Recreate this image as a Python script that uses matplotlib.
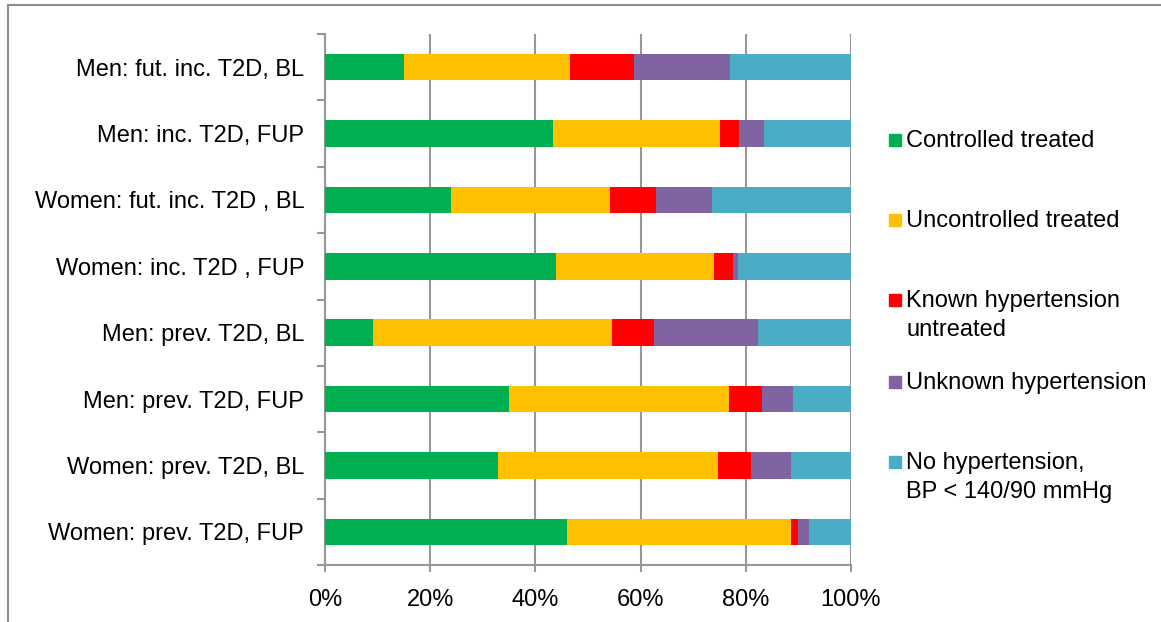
import matplotlib.pyplot as plt
from matplotlib.patches import Rectangle
from matplotlib.lines import Line2D

plt.rcParams['font.family'] = ['Liberation Sans', 'DejaVu Sans']

# data (percent of each group)
groups = ['Men: fut. inc. T2D, BL', 'Men: inc. T2D, FUP', 'Women: fut. inc. T2D , BL',
          'Women: inc. T2D , FUP', 'Men: prev. T2D, BL', 'Men: prev. T2D, FUP',
          'Women: prev. T2D, BL', 'Women: prev. T2D, FUP']
controlled = [15.1, 43.4, 23.9, 44.0, 9.1, 34.9, 32.9, 46.0]
uncontrolled = [31.5, 31.7, 30.3, 30.0, 45.5, 42.0, 41.9, 42.5]
known_untreated = [12.2, 3.6, 8.8, 3.6, 8.0, 6.1, 6.1, 1.5]
unknown = [18.2, 4.7, 10.6, 1.0, 19.8, 5.9, 7.6, 2.1]
no_hyp = [23.0, 16.6, 26.4, 21.4, 17.6, 11.1, 11.5, 7.9]

series = [controlled, uncontrolled, known_untreated, unknown, no_hyp]
series_names = ['Controlled treated', 'Uncontrolled treated', 'Known hypertension\nuntreated',
                'Unknown hypertension', 'No hypertension,\nBP < 140/90 mmHg']
colors = ['#00B050', '#FFC000', '#FF0000', '#8064A2', '#4BACC6']
x_ticks = [0, 20, 40, 60, 80, 100]
x_ticklabels = ['0%', '20%', '40%', '60%', '80%', '100%']

W, H = 1161, 622
fig = plt.figure(figsize=(W / 100, H / 100), dpi=100)
ax = fig.add_axes([325 / W, 57 / H, 526 / W, 531 / H])

grid_c = '#979797'
ypos = list(range(len(groups)))
left = [0.0] * len(groups)
for vals, col in zip(series, colors):
    ax.barh(ypos, vals, left=left, height=0.4, color=col, zorder=3)
    left = [l + v for l, v in zip(left, vals)]

ax.set_xlim(0, 100)
ax.set_ylim(len(groups) - 0.5, -0.5)
ax.set_xticks(x_ticks)
ax.set_xticklabels(x_ticklabels, fontsize=17)
ax.set_yticks(ypos)
ax.set_yticklabels(groups, fontsize=17)
ax.set_yticks([i - 0.5 for i in range(len(groups) + 1)], minor=True)
ax.tick_params(axis='y', which='major', length=0, pad=15)
ax.tick_params(axis='y', which='minor', length=6, width=1.5, color=grid_c)
ax.tick_params(axis='x', length=5, width=1.5, color=grid_c, pad=12)
ax.xaxis.grid(True, color=grid_c, linewidth=1.5, zorder=0)
for s in ['top', 'right']:
    ax.spines[s].set_visible(False)
for s in ['left', 'bottom']:
    ax.spines[s].set_color(grid_c)
    ax.spines[s].set_linewidth(1.5)

# legend drawn by hand to match spacing of the original
# (marker sits beside the first text line)
first_line_y = [140, 220, 300, 382, 462]
for name, col, yy in zip(series_names, colors, first_line_y):
    fig.add_artist(Rectangle((889 / W, 1 - (yy + 6) / H), 12 / W, 12 / H,
                             transform=fig.transFigure, color=col))
    fig.text(906 / W, 1 - (yy - 10) / H, name, fontsize=17, va='top', ha='left',
             linespacing=1.4)

# outer frame (only top and left visible in the crop)
fig.add_artist(Line2D([8 / W, 1], [1 - 4.5 / H, 1 - 4.5 / H], transform=fig.transFigure,
                      color='#8c8c8c', linewidth=1.5))
fig.add_artist(Line2D([8 / W, 8 / W], [0, 1 - 4.5 / H], transform=fig.transFigure,
                      color='#8c8c8c', linewidth=1.5))

fig.savefig('out.png', dpi=100)
